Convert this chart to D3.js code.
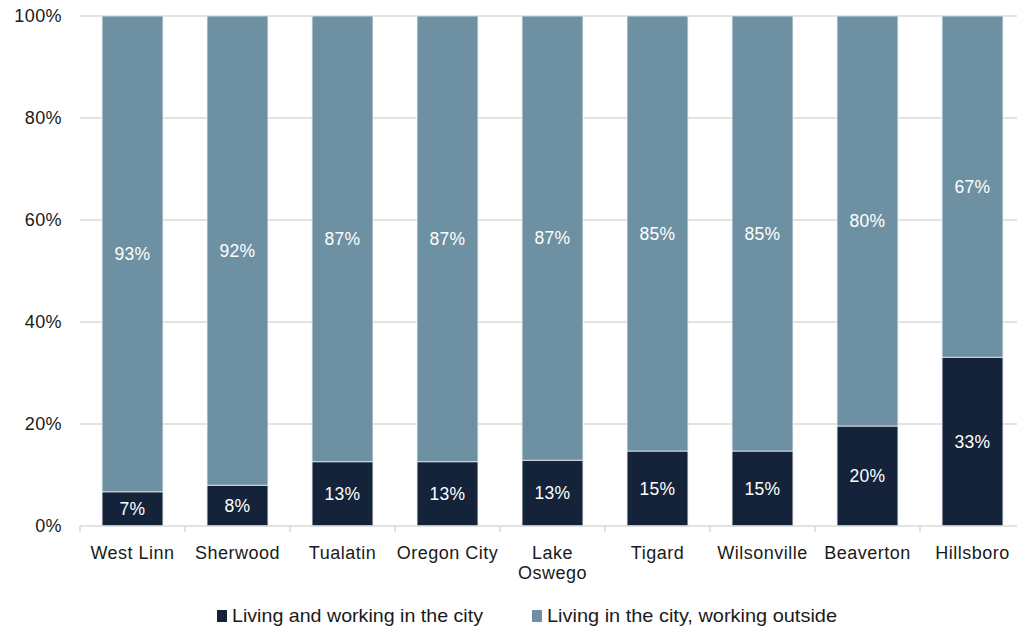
<!DOCTYPE html>
<html>
<head>
<meta charset="utf-8">
<script src="https://cdn.jsdelivr.net/npm/d3@7"></script>
<style>
  html, body { margin: 0; padding: 0; background: #fff; }
  svg { display: block; font-family: "Liberation Sans", Arial, sans-serif; }
</style>
</head>
<body>
<div id="chart"></div>
<script>
// Share of residents living and working in the same city
const cities = ["West Linn", "Sherwood", "Tualatin", "Oregon City", "Lake Oswego", "Tigard", "Wilsonville", "Beaverton", "Hillsboro"];
const inCity = [6.7, 8.0, 12.6, 12.6, 12.9, 14.7, 14.7, 19.6, 33.1];
const outside = [93.3, 92.0, 87.4, 87.4, 87.1, 85.3, 85.3, 80.4, 66.9];
const yTicks = [0, 20, 40, 60, 80, 100];
const seriesNames = ["Living and working in the city", "Living in the city, working outside"];
const colors = ["#14233a", "#6d91a2"];

const W = 1017, H = 629;
const svg = d3.select("#chart").append("svg").attr("width", W).attr("height", H);

const x = d3.scaleBand().domain(cities).range([80, 1025]).paddingInner(0.42).paddingOuter(0.21);
const y = d3.scaleLinear().domain([0, 100]).range([526, 16]);

// gridlines
svg.append("g").selectAll("line")
  .data(yTicks.filter(t => t > 0))
  .join("line")
  .attr("x1", 80).attr("x2", 1025)
  .attr("y1", d => y(d)).attr("y2", d => y(d))
  .attr("stroke", "#d9d9d9").attr("stroke-width", 1.5);

// y labels
svg.append("g").selectAll("text")
  .data(yTicks)
  .join("text")
  .attr("x", 62).attr("y", d => y(d) + 6)
  .attr("text-anchor", "end")
  .attr("font-size", 18).attr("letter-spacing", 0.4).attr("fill", "#1a1a1a")
  .text(d => d + "%");

// stacked data
const rows = cities.map((c, i) => ({ city: c, a: inCity[i], b: outside[i] }));
const stack = d3.stack().keys(["a", "b"])(rows);

const gBars = svg.append("g");
stack.forEach((layer, li) => {
  gBars.append("g").selectAll("rect")
    .data(layer)
    .join("rect")
    .attr("x", d => x(d.data.city))
    .attr("width", x.bandwidth())
    .attr("y", d => y(d[1]))
    .attr("height", d => y(d[0]) - y(d[1]))
    .attr("fill", colors[li])
    .attr("stroke", "#e6ebee").attr("stroke-width", 0.8);

  gBars.append("g").selectAll("text")
    .data(layer)
    .join("text")
    .attr("x", d => x(d.data.city) + x.bandwidth() / 2)
    .attr("y", d => (y(d[0]) + y(d[1])) / 2 + 6)
    .attr("text-anchor", "middle")
    .attr("font-size", 17.5).attr("letter-spacing", 0.3).attr("fill", "#fff")
    .text(d => Math.round(d[1] - d[0]) + "%");
});

// x axis line + ticks
const step = x.step();
const gx = svg.append("g");
gx.append("line")
  .attr("x1", 80).attr("x2", 1025).attr("y1", 526).attr("y2", 526)
  .attr("stroke", "#d9d9d9").attr("stroke-width", 1.5);
gx.selectAll("line.tick")
  .data(d3.range(cities.length + 1))
  .join("line")
  .attr("class", "tick")
  .attr("x1", i => 80 + i * step).attr("x2", i => 80 + i * step)
  .attr("y1", 526).attr("y2", 532)
  .attr("stroke", "#d9d9d9").attr("stroke-width", 1.5);

// category labels (wrap "Lake Oswego")
gx.selectAll("text.cat")
  .data(cities)
  .join("text")
  .attr("class", "cat")
  .attr("text-anchor", "middle")
  .attr("font-size", 18).attr("letter-spacing", 0.5).attr("fill", "#1a1a1a")
  .each(function (d) {
    const lines = d === "Lake Oswego" ? ["Lake", "Oswego"] : [d];
    const t = d3.select(this);
    lines.forEach((ln, k) => {
      t.append("tspan")
        .attr("x", x(d) + x.bandwidth() / 2)
        .attr("y", 559 + k * 20)
        .text(ln);
    });
  });

// legend
const legendX = [217, 532];
const legendLen = [251, 290];
const lg = svg.append("g");
seriesNames.forEach((name, i) => {
  lg.append("rect")
    .attr("x", legendX[i]).attr("y", 610)
    .attr("width", 10).attr("height", 12)
    .attr("fill", colors[i]);
  lg.append("text")
    .attr("x", legendX[i] + 15).attr("y", 622)
    .attr("font-size", 19).attr("fill", "#1a1a1a")
    .attr("textLength", legendLen[i]).attr("lengthAdjust", "spacingAndGlyphs")
    .text(name);
});
</script>
</body>
</html>
